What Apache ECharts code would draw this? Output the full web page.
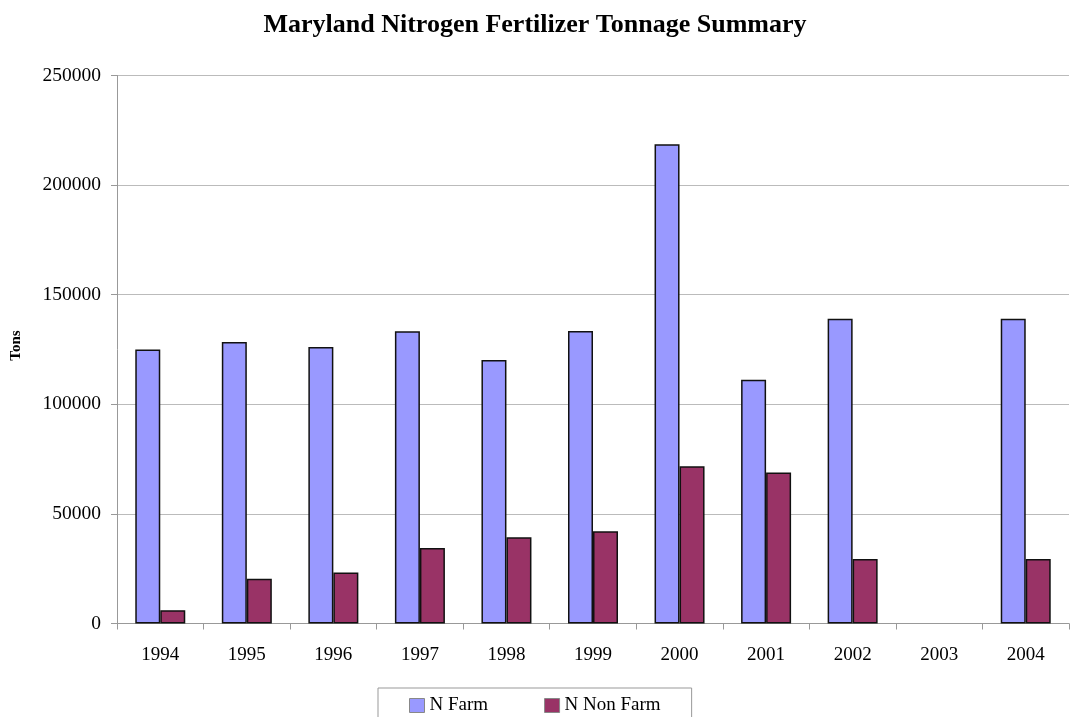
<!DOCTYPE html>
<html><head><meta charset="utf-8">
<script src="https://cdn.jsdelivr.net/npm/echarts@6/dist/echarts.min.js"></script>
<style>html,body{margin:0;padding:0;background:#fff}#c{width:1070px;height:717px}</style>
</head><body><div id="c"></div>
<script>
const categories = ['1994','1995','1996','1997','1998','1999','2000','2001','2002','2003','2004'];
const nFarm = [125000, 128400, 126100, 133300, 120200, 133400, 218600, 111200, 139000, null, 139000];
const nNonFarm = [6100, 20400, 23300, 34500, 39300, 42100, 71700, 68900, 29400, null, 29400];
const yTicks = [0, 50000, 100000, 150000, 200000, 250000];

const font = '"Liberation Serif", "Times New Roman", serif';
const chart = echarts.init(document.getElementById('c'));
chart.setOption({
  animation: false,
  backgroundColor: '#fff',
  title: {
    text: 'Maryland Nitrogen Fertilizer Tonnage Summary',
    left: 'center', top: 7,
    textStyle: {fontFamily: font, fontSize: 26, fontWeight: 'bold', color: '#000'}
  },
  legend: {
    left: 378, top: 688,
    padding: [8, 31, 20, 31],
    itemGap: 56, itemWidth: 15, itemHeight: 14, icon: 'rect',
    borderColor: '#999', borderWidth: 1,
    textStyle: {fontFamily: font, fontSize: 19, color: '#000'},
    itemStyle: {borderColor: '#888', borderWidth: 1},
    data: ['N Farm', 'N Non Farm']
  },
  grid: {left: 117, right: 1, top: 75.5, bottom: 93.5, containLabel: false},
  xAxis: {
    type: 'category', data: categories,
    axisLine: {lineStyle: {color: '#999', width: 1}},
    axisTick: {show: true, alignWithLabel: false, length: 6, lineStyle: {color: '#999'}},
    axisLabel: {fontFamily: font, fontSize: 19, color: '#000', margin: 22}
  },
  yAxis: {
    type: 'value', min: yTicks[0], max: yTicks[yTicks.length - 1], interval: 50000,
    name: 'Tons', nameLocation: 'middle', nameGap: 93, nameRotate: 90,
    nameTextStyle: {fontFamily: font, fontSize: 15, fontWeight: 'bold', color: '#000', padding: [0, 0, 0, 8]},
    axisLine: {show: true, lineStyle: {color: '#999', width: 1}},
    axisTick: {show: true, length: 6, lineStyle: {color: '#999'}},
    axisLabel: {fontFamily: font, fontSize: 19.5, color: '#000', margin: 16,
                formatter: v => String(v)},
    splitLine: {lineStyle: {color: '#bbb', width: 1}}
  },
  series: [
    {name: 'N Farm', type: 'bar', data: nFarm, barWidth: 25, barGap: '0%',
     itemStyle: {color: '#9999FF', borderColor: '#111', borderWidth: 1.5}},
    {name: 'N Non Farm', type: 'bar', data: nNonFarm, barWidth: 25, barGap: '0%',
     itemStyle: {color: '#993366', borderColor: '#111', borderWidth: 1.5}}
  ]
});
</script></body></html>
